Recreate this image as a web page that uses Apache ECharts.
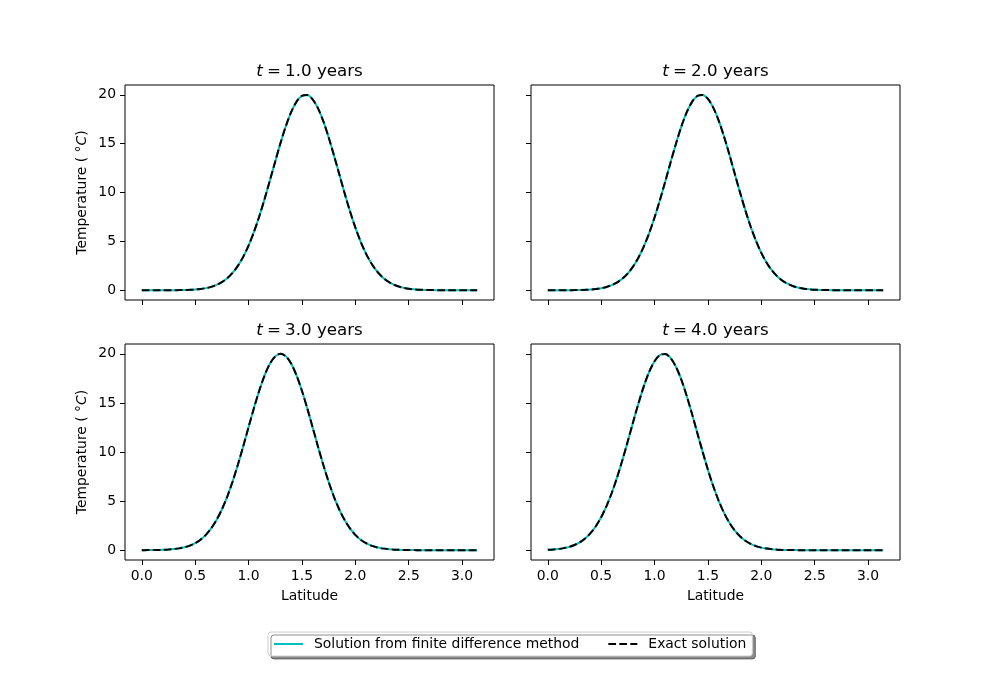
<!DOCTYPE html>
<html><head><meta charset="utf-8">
<script src="https://cdn.jsdelivr.net/npm/echarts@6/dist/echarts.min.js"></script>
<style>html,body{margin:0;padding:0;background:#fff}#c{width:1000px;height:700px}</style>
</head><body><div id="c"></div>
<script>
// ---- data ----
const latitude = [0.00,0.05,0.10,0.15,0.20,0.25,0.30,0.35,0.40,0.45,0.50,0.55,0.60,0.65,0.70,0.75,0.80,0.85,0.90,0.95,
  1.00,1.05,1.10,1.15,1.20,1.25,1.30,1.35,1.40,1.45,1.50,1.55,1.60,1.65,1.70,1.75,1.80,1.85,1.90,1.95,
  2.00,2.05,2.10,2.15,2.20,2.25,2.30,2.35,2.40,2.45,2.50,2.55,2.60,2.65,2.70,2.75,2.80,2.85,2.90,2.95,
  3.00,3.05,3.10,3.1416];
const temp1 = [0,0,0,0.001,0.002,0.004,0.007,0.014,0.025,0.045,0.078,0.131,0.216,0.346,0.541,0.823,1.22,1.77,2.49,3.41,
  4.56,5.94,7.54,9.32,11.23,13.18,15.08,16.80,18.24,19.30,19.89,19.97,19.54,18.63,17.30,15.65,13.80,11.86,9.92,8.09,
  6.43,4.98,3.75,2.76,1.97,1.38,0.94,0.62,0.40,0.25,0.15,0.092,0.054,0.030,0.017,0.009,0.005,0.002,0.001,0,
  0,0,0,0];
const temp2 = [0,0.001,0.002,0.004,0.007,0.013,0.024,0.043,0.075,0.127,0.209,0.337,0.527,0.804,1.19,1.73,2.44,3.35,4.49,5.85,
  7.44,9.21,11.11,13.07,14.97,16.71,18.17,19.25,19.87,19.98,19.58,18.69,17.39,15.76,13.92,11.97,10.04,8.20,6.52,5.06,
  3.82,2.81,2.02,1.41,0.96,0.64,0.41,0.26,0.16,0.095,0.055,0.031,0.017,0.009,0.005,0.003,0.001,0,0,0,
  0,0,0,0];
const temp3 = [0.003,0.006,0.011,0.021,0.037,0.065,0.110,0.183,0.296,0.466,0.716,1.07,1.56,2.22,3.07,4.14,5.44,6.97,8.70,10.57,
  12.52,14.45,16.24,17.79,18.99,19.74,20.0,19.74,18.99,17.79,16.24,14.45,12.52,10.57,8.70,6.97,5.44,4.14,3.07,2.22,
  1.56,1.07,0.716,0.466,0.296,0.183,0.110,0.065,0.037,0.021,0.011,0.006,0.003,0.001,0,0,0,0,0,0,
  0,0,0,0];
const temp4 = [0.043,0.075,0.127,0.209,0.337,0.527,0.804,1.19,1.73,2.44,3.35,4.49,5.85,7.44,9.21,11.11,13.07,14.97,16.71,18.17,
  19.25,19.87,19.98,19.58,18.69,17.39,15.76,13.92,11.97,10.04,8.20,6.52,5.06,3.82,2.81,2.02,1.41,0.96,0.64,0.41,
  0.26,0.16,0.095,0.055,0.031,0.017,0.009,0.005,0.003,0.001,0,0,0,0,0,0,0,0,0,0,
  0,0,0,0];
const panelYears = ['1.0','2.0','3.0','4.0'];
const xTicks = [0,0.5,1,1.5,2,2.5,3];
const yTicks = [0,5,10,15,20];
const seriesNames = ['Solution from finite difference method','Exact solution'];

// ---- layout / style ----
const FONT = 'DejaVu Sans';
const temps = [temp1,temp2,temp3,temp4];
const gridPos = [
  {left:125, top:85, width:369, height:215},
  {left:531, top:85, width:369, height:215},
  {left:125, top:344, width:369, height:216},
  {left:531, top:344, width:369, height:216}
];
const grid = gridPos.map(g => Object.assign({show:true, borderColor:'#000', borderWidth:1, backgroundColor:'transparent'}, g));
const tickStyle = {show:true, inside:false, length:5, lineStyle:{color:'#000', width:1}};
const labelFont = {color:'#000', fontFamily:FONT, fontSize:13.9};

const xAxis = gridPos.map((g,i) => ({
  type:'value', gridIndex:i, min:-0.157, max:3.299,
  axisLine:{show:false, onZero:false}, splitLine:{show:false},
  axisTick:Object.assign({customValues:xTicks}, tickStyle),
  axisLabel:Object.assign({show:i>=2, customValues:xTicks, margin:9, formatter:v=>v.toFixed(1)}, labelFont),
  name: i>=2 ? 'Latitude' : '', nameLocation:'middle', nameGap:29,
  nameTextStyle:labelFont
}));
const yAxis = gridPos.map((g,i) => ({
  type:'value', gridIndex:i, min:-1, max:21,
  axisLine:{show:false, onZero:false}, splitLine:{show:false},
  axisTick:Object.assign({customValues:yTicks}, tickStyle),
  axisLabel:Object.assign({show:i%2===0, customValues:yTicks, margin:9}, labelFont),
  name: i%2===0 ? 'Temperature ( °{c|C})' : '', nameLocation:'middle', nameRotate:90, nameGap:36,
  nameTextStyle:Object.assign({rich:{c:Object.assign({fontStyle:'italic'}, labelFont)}}, labelFont)
}));

const title = gridPos.map((g,i) => ({
  text:'{i|t}\u2005=\u2005' + panelYears[i] + ' years',
  left:g.left + g.width/2, top:g.top - 22, textAlign:'center', padding:0,
  textStyle:{fontFamily:FONT, fontSize:16.7, fontWeight:'normal', color:'#000',
    rich:{i:{fontFamily:FONT, fontSize:16.7, fontStyle:'italic', color:'#000'}}}
}));

const series = [];
temps.forEach((t,i) => {
  const pts = latitude.map((x,j) => [x, t[j]]);
  series.push({type:'line', name:seriesNames[0], xAxisIndex:i, yAxisIndex:i, data:pts,
    symbol:'none', smooth:0.3, z:2, lineStyle:{color:'#00bfbf', width:2}, itemStyle:{color:'#00bfbf'}});
  series.push({type:'line', name:seriesNames[1], xAxisIndex:i, yAxisIndex:i, data:pts,
    symbol:'none', smooth:0.3, z:3, lineStyle:{color:'#000', width:2, type:[7.7,3.3]}, itemStyle:{color:'#000'}});
});

const chart = echarts.init(document.getElementById('c'), null, {renderer:'canvas'});
chart.setOption({
  backgroundColor:'#fff',
  animation:false,
  title, grid, xAxis, yAxis, series,
  legend:{
    data:seriesNames, left:268, top:632, orient:'horizontal',
    itemWidth:29, itemHeight:14, itemGap:28, padding:[5,6,5,5],
    itemStyle:{color:'transparent', borderColor:'transparent', borderWidth:0, opacity:0},
    backgroundColor:'#fff', borderColor:'#ccc', borderWidth:1, borderRadius:3,
    shadowColor:'rgba(0,0,0,0.45)', shadowBlur:0, shadowOffsetX:3, shadowOffsetY:3,
    textStyle:{color:'#000', fontFamily:FONT, fontSize:13.9, padding:[0,0,0,6]}
  }
});
</script></body></html>
